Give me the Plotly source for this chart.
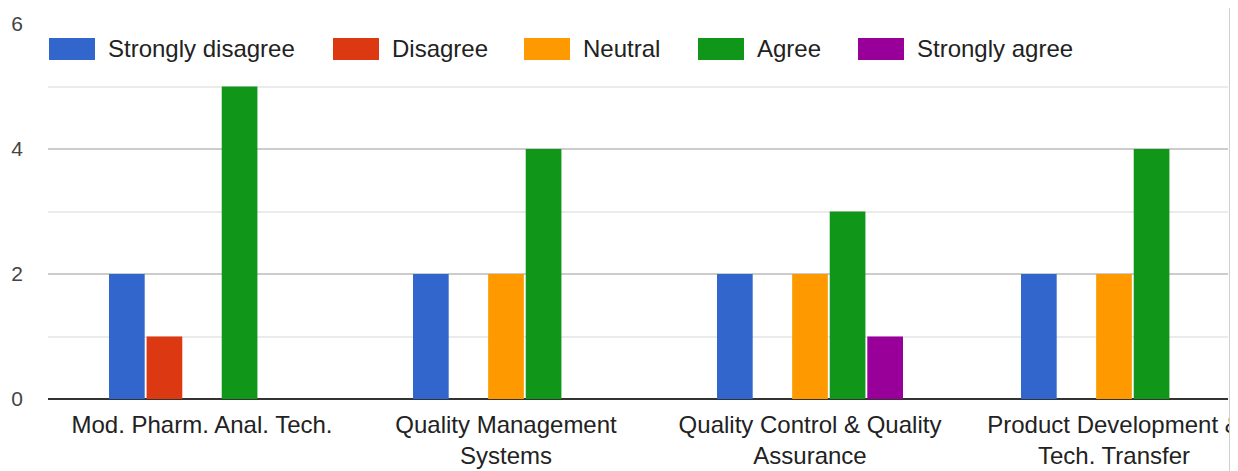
import plotly.graph_objects as go

categories = [
    "Mod. Pharm. Anal. Tech.",
    "Quality Management<br>Systems",
    "Quality Control & Quality<br>Assurance",
    "Product Development &<br>Tech. Transfer",
]
series_names = ["Strongly disagree", "Disagree", "Neutral", "Agree", "Strongly agree"]
strongly_disagree = [2, 2, 2, 2]
disagree = [1, 0, 0, 0]
neutral = [0, 2, 2, 2]
agree = [5, 4, 3, 4]
strongly_agree = [0, 0, 1, 0]
colors = ["#3366cc", "#dc3912", "#ff9900", "#109618", "#990099"]
y_ticks = [0, 2, 4, 6]

series_values = [strongly_disagree, disagree, neutral, agree, strongly_agree]

# page body has an 8px default margin: lay the figure out in page pixels minus 8
OFF = 8
PAGE_W, PAGE_H = 1238, 471
W, H = PAGE_W - OFF, PAGE_H - OFF
PLOT_LEFT, PLOT_RIGHT, PLOT_TOP, PLOT_BOTTOM = 48, 1228, 24, 399  # page px
L = PLOT_LEFT - OFF
R = (PAGE_W - PLOT_RIGHT)
T = PLOT_TOP - OFF
B = PAGE_H - PLOT_BOTTOM
PW, PH = W - L - R, H - T - B
FONT = "Liberation Sans, Arial, sans-serif"

def px2paper_x(px):
    return (px - PLOT_LEFT) / PW

def px2paper_y(py):
    return (PLOT_BOTTOM - py) / PH

fig = go.Figure()
for name, vals, col in zip(series_names, series_values, colors):
    fig.add_trace(go.Bar(
        x=list(range(len(categories))), y=vals, name=name,
        marker=dict(color=col, line=dict(width=0)),
        showlegend=False,
    ))

# custom legend (large swatches like the original)
legend_x = [49, 333, 524, 698, 858]
shapes = []
annotations = []
for lx, name, col in zip(legend_x, series_names, colors):
    shapes.append(dict(type="rect", xref="paper", yref="paper",
                       x0=px2paper_x(lx), x1=px2paper_x(lx + 46),
                       y0=px2paper_y(60), y1=px2paper_y(38),
                       fillcolor=col, line=dict(width=0), layer="above"))
    annotations.append(dict(xref="paper", yref="paper", x=px2paper_x(lx + 57),
                            y=px2paper_y(49), text=name, showarrow=False,
                            xanchor="left", yanchor="middle",
                            font=dict(family=FONT, size=24, color="#222222")))

# right-edge shadow (page scrollbar edge)
shade = [(1229, 1230, "#cfcfcf"), (1230, 1233, "#e2e2e2"), (1233, 1236, "#ececec"), (1236, 1240, "#f4f4f4")]
for x0, x1, c in shade:
    shapes.append(dict(type="rect", xref="paper", yref="paper",
                       x0=px2paper_x(x0), x1=px2paper_x(x1),
                       y0=px2paper_y(PAGE_H + 5), y1=px2paper_y(0),
                       fillcolor=c, line=dict(width=0), layer="above"))

# x range so that category 0 centre sits at px 202 with 304 px per category
cat_px = 304.0
x_lo = -(202 - PLOT_LEFT) / cat_px
x_hi = x_lo + PW / cat_px

fig.update_layout(
    width=W, height=H,
    margin=dict(l=L, r=R, t=T, b=B, pad=0, autoexpand=False),
    paper_bgcolor="white", plot_bgcolor="white",
    barmode="group", bargap=0.382, bargroupgap=0.05,
    font=dict(family=FONT, size=24, color="#222222"),
    shapes=shapes, annotations=annotations,
    xaxis=dict(
        range=[x_lo, x_hi], tickmode="array",
        tickvals=list(range(len(categories))), ticktext=categories,
        showgrid=False, zeroline=False, showline=False, ticks="",
        tickfont=dict(family=FONT, size=24, color="#222222"),
        ticklabelstandoff=9, ticklabeloverflow="allow", automargin=False,
    ),
    yaxis=dict(
        range=[0, 6], tickmode="array", tickvals=y_ticks,
        ticktext=[str(v) for v in y_ticks],
        showgrid=True, gridcolor="#cccccc", gridwidth=2,
        minor=dict(dtick=1, tick0=0, showgrid=True, gridcolor="#ebebeb", gridwidth=2, ticks=""),
        zeroline=True, zerolinecolor="#333333", zerolinewidth=2,
        showline=False, ticks="",
        tickfont=dict(family=FONT, size=21, color="#444444"),
        ticklabelstandoff=24, automargin=False,
    ),
)

fig.write_html("out.html", config={"displayModeBar": False})
